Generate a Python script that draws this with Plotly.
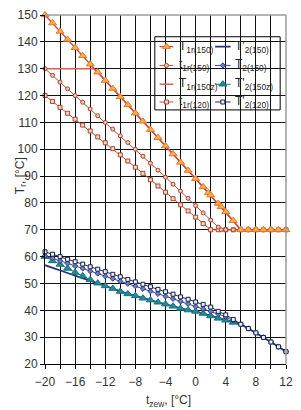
import plotly.graph_objects as go

# ---------------- data ----------------
x_T1r150 = [-20, -19, -18, -17, -16, -15, -14, -13, -12, -11, -10, -9, -8, -7, -6, -5, -4, -3, -2, -1,
            0, 1, 1.7, 2, 3, 3.4, 4, 5, 6, 7, 8, 9, 10, 11, 12]
y_T1r150 = [150, 147.0, 143.9, 140.9, 137.8, 134.8, 131.7, 128.7, 125.6, 122.6, 119.5, 116.5, 113.4,
            110.4, 107.3, 104.3, 101.2, 98.2, 95.1, 92.1, 89.0, 86.0, 83.8, 82.9, 79.8, 78.6, 76.7,
            73.4, 70, 70, 70, 70, 70, 70, 70]

x_t1r150 = [-20, -19, -18, -17, -16, -15, -14, -13, -12, -11, -10, -9, -8, -7, -6, -5, -4, -3, -2, -1,
            0, 1, 2, 3, 3.4, 4, 5, 6, 7, 8, 9, 10, 11, 12]
y_t1r150 = [130, 127.5, 125.0, 122.5, 120.0, 117.5, 115.0, 112.5, 110.0, 107.5, 105.0, 102.5, 100.0,
            97.4, 94.8, 92.2, 89.6, 87.0, 84.4, 81.7, 79.0, 76.3, 73.6, 71.0, 70, 70, 70, 70, 70, 70,
            70, 70, 70, 70]

x_T1r150z = [-20, -13.5, -13, -10, -5, 0, 6, 12]
y_T1r150z = [130, 130, 128.7, 119.5, 104.3, 89.0, 70, 70]

x_t1r120 = [-20, -19, -18, -17, -16, -15, -14, -13, -12, -11, -10, -9, -8, -7, -6, -5, -4, -3, -2, -1,
            0, 1, 2, 3, 4, 5, 6, 7, 8, 9, 10, 11, 12]
y_t1r120 = [120, 117.8, 115.6, 113.4, 111.2, 109.0, 106.8, 104.6, 102.4, 100.2, 97.9, 95.6, 93.3,
            91.0, 88.6, 86.3, 84.0, 81.6, 79.3, 77.0, 74.7, 72.3, 70, 70, 70, 70, 70, 70, 70, 70, 70,
            70, 70]

x_low = [-20, -19, -18, -17, -16, -15, -14, -13, -12, -11, -10, -9, -8, -7, -6, -5, -4, -3, -2, -1,
         0, 1, 2, 3, 4, 5, 6, 7, 8, 9, 10, 11, 12]
y_T2p150 = [56.8, 55.9, 54.9, 53.9, 52.9, 52.0, 51.0, 50.1, 49.1, 48.1, 47.0, 46.1, 45.4, 44.5, 43.8,
            43.0, 42.3, 41.5, 40.7, 40.1, 39.6, 38.8, 37.9, 37.0, 36.3, 35.5, 34.8, 33.2, 31.6, 29.9,
            28.2, 26.4, 24.6]
y_T2_150 = [60.3, 59.4, 58.4, 57.5, 56.5, 55.6, 54.6, 53.7, 52.7, 51.8, 50.8, 49.9, 49.0, 48.0, 47.1,
            46.1, 45.2, 44.3, 43.3, 42.4, 41.4, 40.5, 39.6, 38.6, 37.5, 36.2, 34.8, 33.2, 31.6, 29.9,
            28.2, 26.4, 24.6]
x_T2p150z = [-20, -19, -18, -17, -16, -15, -14, -13, -12, -11, -10, -9, -8, -7, -6, -5, -4, -3, -2,
             -1, 0, 1, 2, 3, 4, 5]
y_T2p150z = [60.0, 58.4, 57.1, 55.6, 54.1, 52.8, 51.4, 50.1, 49.1, 48.1, 47.0, 46.1, 45.4, 44.5, 43.8,
             43.0, 42.3, 41.5, 40.7, 40.1, 39.6, 38.8, 37.9, 37.0, 36.3, 35.5]
y_T2p120 = [61.8, 60.9, 60.0, 59.0, 58.1, 57.2, 56.2, 55.3, 54.4, 53.4, 52.5, 51.5, 50.6, 49.7, 48.8,
            47.8, 46.9, 46.0, 45.0, 44.1, 43.1, 42.2, 41.2, 39.6, 38.3, 36.6, 34.8, 33.2, 31.6, 29.9,
            28.2, 26.4, 24.6]

x_ticks = [-20, -16, -12, -8, -4, 0, 4, 8, 12]
x_ticktext = ["\u221220", "\u221216", "\u221212", "\u22128", "\u22124", "0", "4", "8", "12"]
x_minor_ticks = [-18, -14, -10, -6, -2, 2, 6, 10]
y_ticks = [20, 30, 40, 50, 60, 70, 80, 90, 100, 110, 120, 130, 140, 150]

legend_labels = ["T<sub>1r(150)</sub>", "t<sub>1r(150)</sub>", "T<sub>1r(150z)</sub>", "t<sub>1r(120)</sub>",
                 "T'<sub>2(150)</sub>", "T<sub>2(150)</sub>", "T'<sub>2(150z)</sub>", "T'<sub>2(120)</sub>"]

# ---------------- styles ----------------
RED = "#C8463A"
styles = [
    dict(mode="lines+markers", line=dict(color=RED, width=1.3),
         marker=dict(symbol="triangle-up", size=7, color="#F7AE45", line=dict(color="#E8742A", width=1))),
    dict(mode="lines+markers", line=dict(color=RED, width=1),
         marker=dict(symbol="circle", size=4, color="#F3C9B0", line=dict(color="#A5452F", width=1))),
    dict(mode="lines", line=dict(color="#E05A5A", width=1.5)),
    dict(mode="lines+markers", line=dict(color=RED, width=1),
         marker=dict(symbol="square", size=4, color="#F6D8BE", line=dict(color="#A5452F", width=1))),
    dict(mode="lines", line=dict(color="#28367F", width=1.8)),
    dict(mode="lines+markers", line=dict(color="#34449A", width=1),
         marker=dict(symbol="diamond", size=4, color="#6D7DC4", line=dict(color="#2A3A8A", width=1))),
    dict(mode="lines+markers", line=dict(color="#1E6F86", width=1),
         marker=dict(symbol="triangle-up", size=7, color="#1F8C96", line=dict(color="#17707C", width=1))),
    dict(mode="lines+markers", line=dict(color="#1C2A66", width=1),
         marker=dict(symbol="square", size=4, color="#EEF0F6", line=dict(color="#151E4A", width=1))),
]

series = [
    (x_T1r150, y_T1r150), (x_t1r150, y_t1r150), (x_T1r150z, y_T1r150z), (x_t1r120, y_t1r120),
    (x_low, y_T2p150), (x_low, y_T2_150), (x_T2p150z, y_T2p150z), (x_low, y_T2p120),
]
draw_order = [2, 3, 1, 0, 4, 6, 5, 7]

fig = go.Figure()
for i in draw_order:
    xs, ys = series[i]
    fig.add_trace(go.Scatter(x=xs, y=ys, name=legend_labels[i], showlegend=False,
                             cliponaxis=False, hoverinfo="skip", **styles[i]))

# ---------------- custom compact legend ----------------
L, R, T, B = 45, 293, 11, 364
W, H = R - L, B - T
px = lambda v: (v - L) / W
py = lambda v: (B - v) / H

rows = [43, 62, 81, 99]
cols = [(163, 177, 181), (220, 236, 238)]
for k in range(8):
    c, r = divmod(k, 4)
    x0, x1, xt = cols[c]
    yy = py(rows[r])
    st = styles[k]
    xs = [px(x0), px((x0 + x1) / 2), px(x1)]
    ys = [yy, yy, yy]
    fig.add_trace(go.Scatter(x=xs, y=ys, xaxis="x2", yaxis="y2", mode="lines", line=st["line"],
                             showlegend=False, hoverinfo="skip", cliponaxis=False))
    if "markers" in st["mode"]:
        fig.add_trace(go.Scatter(x=[xs[1]], y=[yy], xaxis="x2", yaxis="y2", mode="markers",
                                 marker=st["marker"], showlegend=False, hoverinfo="skip",
                                 cliponaxis=False))
    fig.add_annotation(x=px(xt), y=yy, xref="paper", yref="paper", text=legend_labels[k],
                       showarrow=False, xanchor="left", yanchor="middle",
                       font=dict(size=12, color="#222", family="Liberation Sans"))

fig.add_shape(type="rect", xref="paper", yref="paper", x0=px(158), x1=px(287), y0=py(107), y1=py(33),
              fillcolor="white", line=dict(color="black", width=1), layer="between")
# grey top/right frame
fig.add_shape(type="line", xref="paper", yref="paper", x0=0, x1=1, y0=1, y1=1,
              line=dict(color="#9A9A9A", width=1.5), layer="above")
fig.add_shape(type="line", xref="paper", yref="paper", x0=1, x1=1, y0=0, y1=1,
              line=dict(color="#9A9A9A", width=1.5), layer="above")

# axis titles
fig.add_annotation(x=px(10), y=py(173), xref="paper", yref="paper", text="T<sub>r</sub>, [°C]",
                   textangle=-90, showarrow=False, font=dict(size=12, color="#333", family="Liberation Sans"))
fig.add_annotation(x=px(172), y=py(391), xref="paper", yref="paper", text="t<sub>zew</sub>, [°C]",
                   showarrow=False, yanchor="top",
                   font=dict(size=12, color="#333", family="Liberation Sans"))

fig.update_layout(
    width=301, height=410,
    margin=dict(l=L, r=301 - R, t=T, b=410 - B),
    paper_bgcolor="white", plot_bgcolor="white",
    font=dict(family="Liberation Sans", size=12, color="#333"),
    xaxis=dict(range=[-20, 12], tickvals=x_ticks, ticktext=x_ticktext, showgrid=True,
               gridcolor="#111", gridwidth=1, showline=True, linecolor="black", linewidth=1,
               ticks="outside", ticklen=4, tickcolor="black", zeroline=False, ticklabelstandoff=3,
               tickfont=dict(size=12, color="#333"),
               minor=dict(tickvals=x_minor_ticks, showgrid=True, gridcolor="#111", gridwidth=1,
                          ticks="outside", ticklen=4, tickcolor="black")),
    yaxis=dict(range=[20, 150], tickvals=y_ticks, showgrid=True, gridcolor="#111", gridwidth=1,
               showline=True, linecolor="black", linewidth=1, ticks="outside", ticklen=4,
               tickcolor="black", zeroline=False, tickfont=dict(size=12, color="#333")),
    xaxis2=dict(overlaying="x", range=[0, 1], visible=False),
    yaxis2=dict(overlaying="y", range=[0, 1], visible=False),
    showlegend=False,
)

fig.write_html("out.html")
